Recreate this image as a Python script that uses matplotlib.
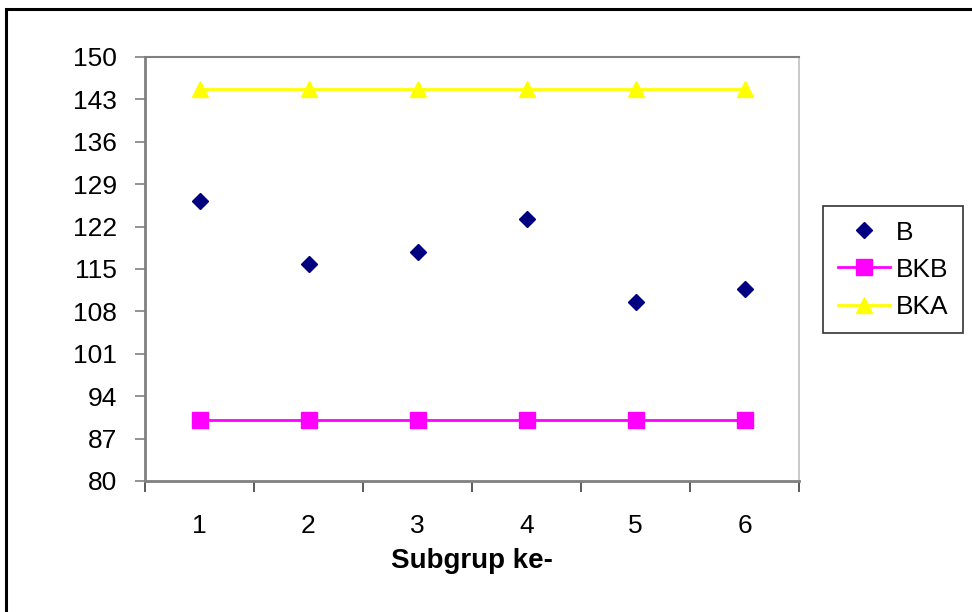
import matplotlib.pyplot as plt
from matplotlib.patches import Rectangle

plt.rcParams['font.family'] = ['Liberation Sans', 'DejaVu Sans']

# subgroup numbers and the measured values
subgrup = [1, 2, 3, 4, 5, 6]
b_values = [126.2, 115.8, 117.8, 123.3, 109.6, 111.7]
bkb_values = [90.0, 90.0, 90.0, 90.0, 90.0, 90.0]
bka_values = [144.7, 144.7, 144.7, 144.7, 144.7, 144.7]
y_ticks = [80, 87, 94, 101, 108, 115, 122, 129, 136, 143, 150]


def main():
    fig = plt.figure(figsize=(9.72, 6.12), dpi=100)
    ax = fig.add_axes([145 / 972, 1 - 481 / 612, 654 / 972, 424 / 612])

    # outer chart frame, cut off at the right and bottom
    frame = Rectangle((6 / 972, -0.05), 1.2, 1 - 9 / 612 + 0.05,
                      transform=fig.transFigure, fill=False,
                      edgecolor='black', linewidth=2.2, clip_on=False)
    fig.patches.append(frame)

    ax.plot(subgrup, b_values, linestyle='none', marker='D', color='#000080',
            markersize=8.5, label='B')
    ax.plot(subgrup, bkb_values, color='#FF00FF', linewidth=2, marker='s',
            markersize=11, label='BKB')
    ax.plot(subgrup, bka_values, color='#FFFF00', linewidth=2, marker='^',
            markersize=12, label='BKA')

    ax.set_xlim(0.5, 6.5)
    ax.set_ylim(80, 150)
    ax.set_yticks(y_ticks)
    ax.set_xticks(subgrup)
    ax.set_xticks([0.5 + i for i in range(7)], minor=True)
    ax.tick_params(axis='x', which='major', length=0, labelsize=19, pad=24)
    ax.tick_params(axis='x', which='minor', length=8, width=1.2,
                   color='#404040', direction='out')
    ax.tick_params(axis='y', length=7, width=1.2, color='#808080',
                   labelsize=19, pad=13)

    for side in ['left', 'bottom']:
        ax.spines[side].set_color('#808080')
        ax.spines[side].set_linewidth(2)
    ax.spines['top'].set_color('#808080')
    ax.spines['top'].set_linewidth(1.5)
    ax.spines['right'].set_color('#c0c0c0')
    ax.spines['right'].set_linewidth(1.2)

    ax.set_xlabel('Subgrup ke-', fontsize=20, fontweight='bold', labelpad=7)

    leg = ax.legend(loc='upper left', bbox_to_anchor=(823 / 972, 1 - 206 / 612),
                    bbox_transform=fig.transFigure, fontsize=19, frameon=True,
                    fancybox=False, handlelength=2.0, handletextpad=0.2,
                    borderpad=0.55, labelspacing=0.5, borderaxespad=0)
    leg.get_frame().set_edgecolor('black')
    leg.get_frame().set_linewidth(1.2)

    fig.savefig('out.png', dpi=100)


if __name__ == '__main__':
    main()
